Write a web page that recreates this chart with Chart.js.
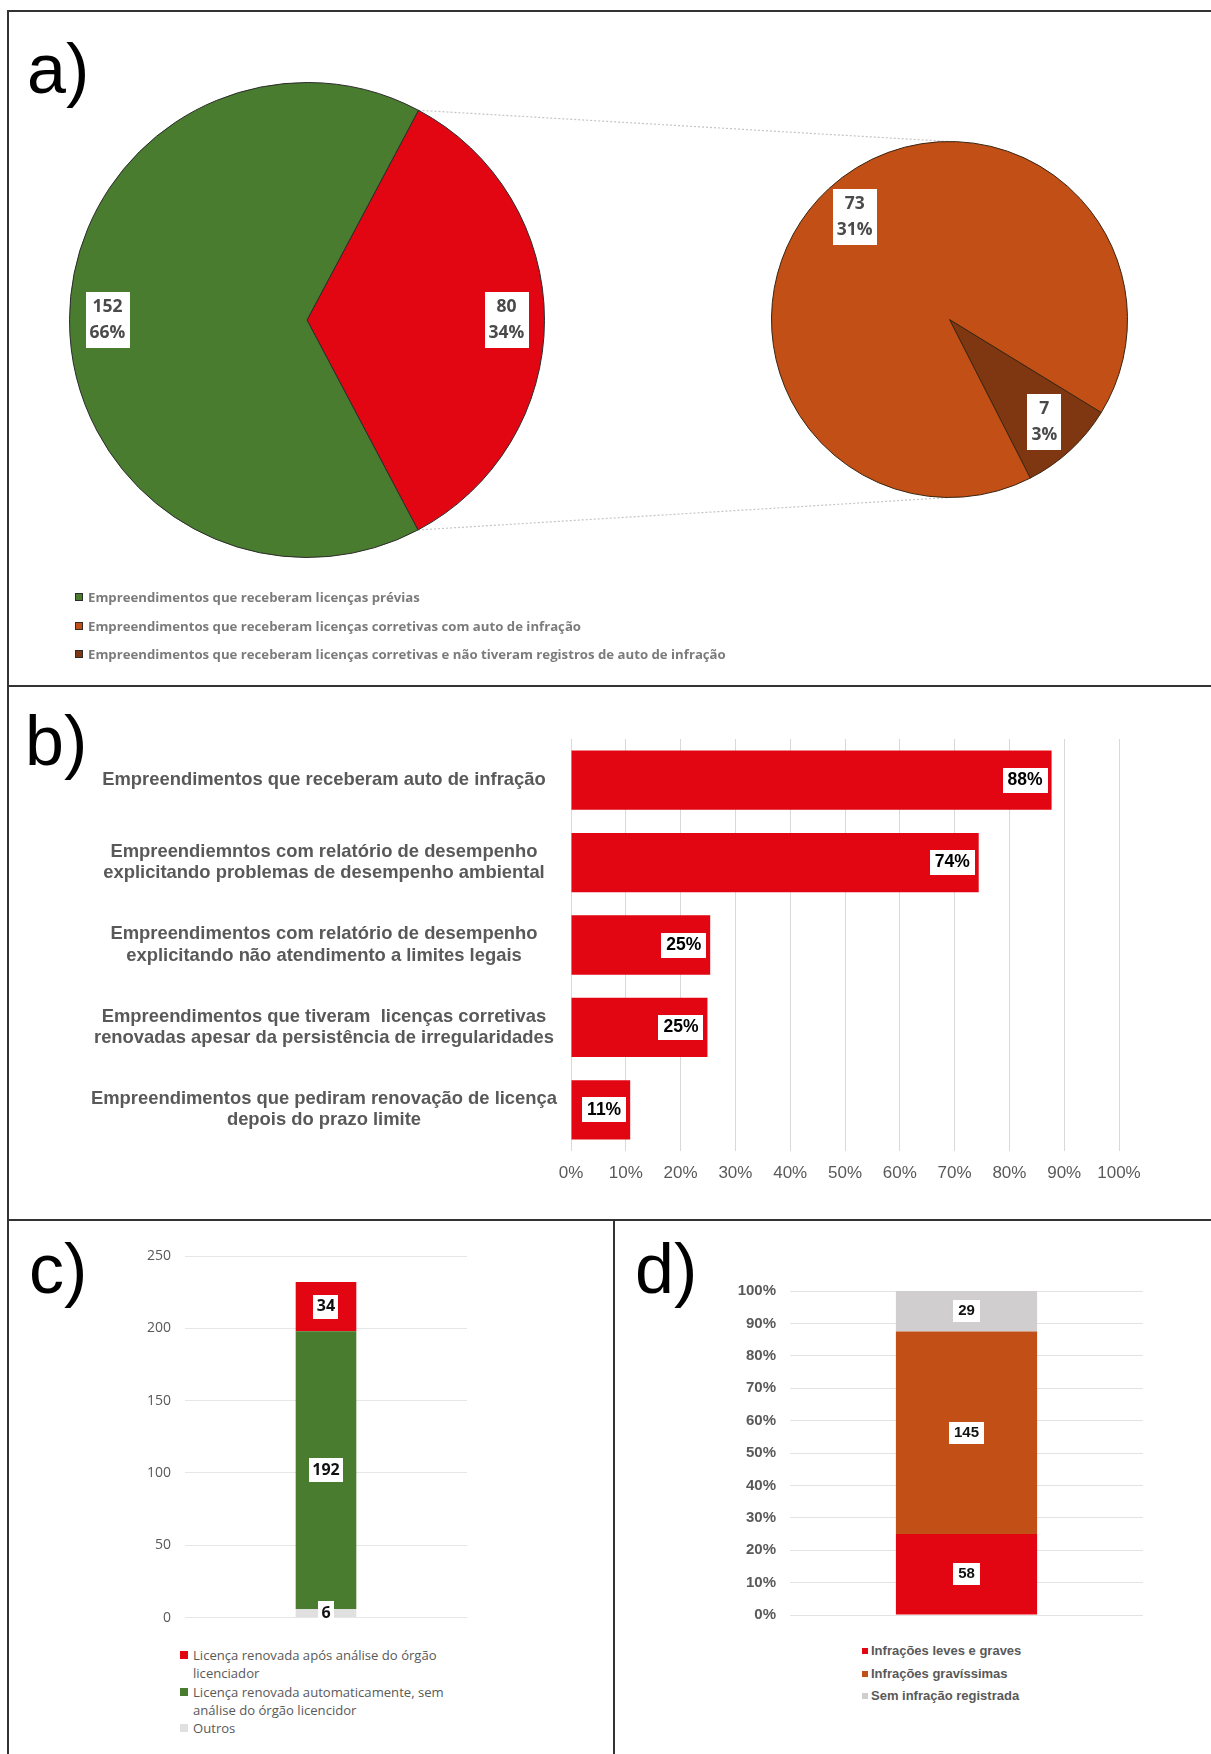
<!DOCTYPE html>
<html lang="pt-br">

<head>
  <meta charset="UTF-8">
  <title>Licenciamento - figura</title>
  <script src="https://cdn.jsdelivr.net/npm/chart.js"></script>
  <style>
    body { margin: 0; background: #fff; }
    #pagina { position: relative; width: 1211px; height: 1754px; overflow: hidden; background: #fff; }
    .linha { position: absolute; background: #333; }
    .letra { position: absolute; font-family: 'Liberation Sans', Arial, sans-serif; font-size: 70px; line-height: 70px; color: #000; }
    canvas { position: absolute; }
    .legenda { position: absolute; }
    .item { display: flex; align-items: flex-start; }
    .marca { flex: none; box-sizing: border-box; }
    #legenda-a { left: 75px; top: 583px; font-family: 'Open Sans', sans-serif; font-weight: 700; font-size: 13.2px; color: #7b7b7b; }
    #legenda-a .item { height: 28.5px; align-items: center; }
    #legenda-a .marca { width: 8px; height: 8px; border: 1px solid #2b2b2b; margin-right: 5px; }
    #legenda-c { left: 180px; top: 1646px; width: 300px; font-family: 'Open Sans', sans-serif; font-size: 13.1px; line-height: 18.3px; color: #595959; }
    #legenda-c .marca { width: 8px; height: 8px; margin: 5px 5px 0 0; }
    #legenda-c .texto { width: 268px; }
    #legenda-d { left: 862px; top: 1640px; font-family: 'Liberation Sans', Arial, sans-serif; font-weight: bold; font-size: 13px; line-height: 22.5px; color: #595959; }
    #legenda-d .marca { width: 6px; height: 6px; margin: 8px 3px 0 0; }
  </style>
</head>

<body>

  <div id="pagina">

    <!-- MOLDURA DOS PAINÉIS -->
    <div class="linha" style="left:8px; top:10px; width:1203px; height:2px;"></div>
    <div class="linha" style="left:7px; top:10px; width:2px; height:1744px;"></div>
    <div class="linha" style="left:8px; top:685px; width:1203px; height:2px;"></div>
    <div class="linha" style="left:8px; top:1219px; width:1203px; height:2px;"></div>
    <div class="linha" style="left:613px; top:1219px; width:2px; height:535px;"></div>

    <div class="letra" style="left:27px; top:34px;">a)</div>
    <div class="letra" style="left:25px; top:706px;">b)</div>
    <div class="letra" style="left:29px; top:1234px;">c)</div>
    <div class="letra" style="left:635px; top:1234px;">d)</div>

    <canvas id="conectores" width="1211" height="690" style="left:0; top:0;"></canvas>
    <canvas id="pizza" width="486" height="486" style="left:64px; top:77px;"></canvas>
    <canvas id="pizza-zoom" width="367" height="367" style="left:766px; top:136px;"></canvas>
    <div class="legenda" id="legenda-a"></div>

    <canvas id="barras-b" width="1200" height="525" style="left:8px; top:690px;"></canvas>

    <canvas id="barras-c" width="420" height="410" style="left:100px; top:1230px;"></canvas>
    <div class="legenda" id="legenda-c"></div>

    <canvas id="barras-d" width="570" height="400" style="left:630px; top:1240px;"></canvas>
    <div class="legenda" id="legenda-d"></div>

  </div>

  <script>

    // DADOS
    const rotulosPizza = ['Empreendimentos que receberam licenças corretivas', 'Empreendimentos que receberam licenças prévias'];
    const valoresPizza = [80, 152];

    const rotulosZoom = ['Empreendimentos que receberam licenças corretivas e não tiveram registros de auto de infração',
      'Empreendimentos que receberam licenças corretivas com auto de infração'];
    const valoresZoom = [7, 73];

    const rotulosB = [
      'Empreendimentos que receberam auto de infração',
      ['Empreendiemntos com relatório de desempenho', 'explicitando problemas de desempenho ambiental'],
      ['Empreendimentos com relatório de desempenho', 'explicitando não atendimento a limites legais'],
      ['Empreendimentos que tiveram  licenças corretivas', 'renovadas apesar da persistência de irregularidades'],
      ['Empreendimentos que pediram renovação de licença', 'depois do prazo limite']
    ];
    const valoresB = [87.7, 74.4, 25.4, 24.9, 10.8];

    // ordem de empilhamento: de baixo para cima
    const seriesC = ['Outros', 'Licença renovada automaticamente, sem análise do órgão licencidor',
      'Licença renovada após análise do órgão licenciador'];
    const valoresC = [6, 192, 34];
    const ordemLegendaC = [2, 1, 0];

    const seriesD = ['Infrações leves e graves', 'Infrações gravíssimas', 'Sem infração registrada'];
    const valoresD = [58, 145, 29];

    // CORES
    const vermelho = '#e20613';
    const verde = '#4a7c2f';
    const laranja = '#c14f16';
    const marrom = '#7f3712';
    const cinzaC = '#e0e0e0';
    const cinzaD = '#d0cece';

    const arial = "'Liberation Sans', Arial, sans-serif";
    const calibri = "'Open Sans', sans-serif";

    const totalGeral = valoresPizza.reduce((a, b) => a + b, 0);

    // rótulo em caixa branca (tipo data label do Excel)
    function rotulosCaixa(cfg) {
      return {
        id: 'rotulosCaixa',
        afterDatasetsDraw(chart) {
          const ctx = chart.ctx;
          ctx.save();
          ctx.font = cfg.fonte;
          ctx.textAlign = 'center';
          ctx.textBaseline = 'middle';
          chart.data.datasets.forEach((ds, d) => {
            chart.getDatasetMeta(d).data.forEach((el, i) => {
              const linhas = cfg.texto(ds.data[i], d, i);
              const w = Math.max(...linhas.map(t => ctx.measureText(t).width)) + cfg.padX * 2;
              const h = linhas.length * cfg.altLinha + cfg.padY * 2;
              const p = cfg.posicao(el, w, h);
              ctx.fillStyle = '#fff';
              ctx.fillRect(Math.round(p.x - w / 2), Math.round(p.y - h / 2), Math.round(w), Math.round(h));
              ctx.fillStyle = cfg.cor;
              linhas.forEach((t, k) => ctx.fillText(t, p.x, p.y - h / 2 + cfg.padY + cfg.altLinha * (k + 0.5)));
            });
          });
          ctx.restore();
        }
      };
    }

    function pontoArco(el, fator) {
      const meio = (el.startAngle + el.endAngle) / 2;
      return { x: el.x + Math.cos(meio) * el.outerRadius * fator, y: el.y + Math.sin(meio) * el.outerRadius * fator };
    }

    const textoPizza = v => [String(v), Math.round(v / totalGeral * 100) + '%'];

    const opcoesPizza = (rotacao) => ({
      responsive: false,
      animation: false,
      rotation: rotacao,
      layout: { padding: 5 },
      plugins: { legend: { display: false }, tooltip: { enabled: false } }
    });

    // a) PIZZA PRINCIPAL
    const graficoPizza = new Chart(document.getElementById('pizza'), {
      type: 'pie',
      data: {
        labels: rotulosPizza,
        datasets: [{ data: valoresPizza, backgroundColor: [vermelho, verde], borderColor: '#2b2b2b', borderWidth: 1 }]
      },
      options: opcoesPizza(28),
      plugins: [rotulosCaixa({
        fonte: 'bold 17.5px ' + calibri, cor: '#4a4a4a', padX: 4, padY: 2, altLinha: 26,
        texto: textoPizza, posicao: el => pontoArco(el, 0.84)
      })]
    });

    // a) PIZZA DO DETALHE
    const graficoZoom = new Chart(document.getElementById('pizza-zoom'), {
      type: 'pie',
      data: {
        labels: rotulosZoom,
        datasets: [{ data: valoresZoom, backgroundColor: [marrom, laranja], borderColor: '#3a2410', borderWidth: 1 }]
      },
      options: opcoesPizza(121.5),
      plugins: [rotulosCaixa({
        fonte: 'bold 17.5px ' + calibri, cor: '#4a4a4a', padX: 4, padY: 2, altLinha: 26,
        texto: textoPizza, posicao: el => pontoArco(el, 0.785)
      })]
    });

    // linhas pontilhadas ligando as duas pizzas
    const cvP = document.getElementById('pizza');
    const cvZ = document.getElementById('pizza-zoom');
    const arcoV = graficoPizza.getDatasetMeta(0).data[0];
    const arcoZ = graficoZoom.getDatasetMeta(0).data[0];
    const con = document.getElementById('conectores').getContext('2d');
    con.strokeStyle = '#c4c4c4';
    con.lineWidth = 1.2;
    con.setLineDash([2, 2]);
    [[arcoV.startAngle, -1], [arcoV.endAngle, 1]].forEach(([ang, lado]) => {
      con.beginPath();
      con.moveTo(cvP.offsetLeft + arcoV.x + arcoV.outerRadius * Math.cos(ang), cvP.offsetTop + arcoV.y + arcoV.outerRadius * Math.sin(ang));
      con.lineTo(cvZ.offsetLeft + arcoZ.x, cvZ.offsetTop + arcoZ.y + lado * arcoZ.outerRadius);
      con.stroke();
    });

    // b) BARRAS HORIZONTAIS
    new Chart(document.getElementById('barras-b'), {
      type: 'bar',
      data: {
        labels: rotulosB,
        datasets: [{ data: valoresB, backgroundColor: vermelho, categoryPercentage: 1, barPercentage: 0.72 }]
      },
      options: {
        indexAxis: 'y',
        responsive: false,
        animation: false,
        layout: { padding: { left: 0, right: 89, top: 49, bottom: 24 } },
        plugins: { legend: { display: false }, tooltip: { enabled: false } },
        scales: {
          x: {
            min: 0, max: 100,
            afterFit: s => { s.height = 40; },
            grid: { color: '#d9d9d9', drawTicks: false },
            border: { display: false },
            ticks: { stepSize: 10, padding: 12, color: '#595959', font: { family: arial, size: 17 }, callback: v => v + '%' }
          },
          y: {
            afterFit: s => { s.width = 563; },
            grid: { display: false, drawTicks: false },
            border: { display: false },
            ticks: { padding: 14, crossAlign: 'center', color: '#595959', font: { family: arial, size: 18.4, weight: 'bold', lineHeight: 1.15 } }
          }
        }
      },
      plugins: [rotulosCaixa({
        fonte: 'bold 17.5px ' + arial, cor: '#000', padX: 5, padY: 4, altLinha: 17,
        texto: v => [Math.round(v) + '%'],
        posicao: (el, w) => ({ x: el.x - 4 - w / 2, y: el.y })
      })]
    });

    // c) BARRA EMPILHADA
    const coresC = [cinzaC, verde, vermelho];
    new Chart(document.getElementById('barras-c'), {
      type: 'bar',
      data: {
        labels: [''],
        datasets: seriesC.map((s, i) => ({ label: s, data: [valoresC[i]], backgroundColor: coresC[i], categoryPercentage: 1, barPercentage: 0.215 }))
      },
      options: {
        responsive: false,
        animation: false,
        layout: { padding: { left: 0, right: 53, top: 26, bottom: 16 } },
        plugins: { legend: { display: false }, tooltip: { enabled: false } },
        scales: {
          x: { stacked: true, display: false },
          y: {
            stacked: true, min: 0, max: 250,
            afterFit: s => { s.width = 85; },
            grid: { color: '#e6e6e6', drawTicks: false },
            border: { display: false },
            ticks: { stepSize: 50, padding: 14, color: '#595959', font: { family: calibri, size: 14 } }
          }
        }
      },
      plugins: [rotulosCaixa({
        fonte: 'bold 16px ' + calibri, cor: '#111', padX: 3.5, padY: 3, altLinha: 18,
        texto: v => [String(v)],
        posicao: el => ({ x: el.x, y: (el.y + el.base) / 2 })
      })]
    });

    // d) BARRA 100% EMPILHADA
    const coresD = [vermelho, laranja, cinzaD];
    const totalD = valoresD.reduce((a, b) => a + b, 0);
    new Chart(document.getElementById('barras-d'), {
      type: 'bar',
      data: {
        labels: [''],
        datasets: seriesD.map((s, i) => ({ label: s, data: [valoresD[i] / totalD * 100], backgroundColor: coresD[i], categoryPercentage: 1, barPercentage: 0.40 }))
      },
      options: {
        responsive: false,
        animation: false,
        layout: { padding: { left: 0, right: 57, top: 51, bottom: 25 } },
        plugins: { legend: { display: false }, tooltip: { enabled: false } },
        scales: {
          x: { stacked: true, display: false },
          y: {
            stacked: true, min: 0, max: 100,
            afterFit: s => { s.width = 160; },
            grid: { color: '#e3e3e3', drawTicks: false },
            border: { display: false },
            ticks: { stepSize: 10, padding: 14, color: '#595959', font: { family: arial, size: 15, weight: 'bold' }, callback: v => v + '%' }
          }
        }
      },
      plugins: [rotulosCaixa({
        fonte: 'bold 15px ' + arial, cor: '#111', padX: 5, padY: 3.5, altLinha: 15,
        texto: (v, d) => [String(valoresD[d])],
        posicao: el => ({ x: el.x, y: (el.y + el.base) / 2 })
      })]
    });

    // LEGENDAS
    function montarLegenda(id, itens) {
      const caixa = document.getElementById(id);
      itens.forEach(([texto, cor]) => {
        const item = document.createElement('div');
        item.className = 'item';
        item.innerHTML = '<span class="marca" style="background:' + cor + '"></span><span class="texto">' + texto + '</span>';
        caixa.appendChild(item);
      });
    }

    montarLegenda('legenda-a', [[rotulosPizza[1], verde], [rotulosZoom[1], laranja], [rotulosZoom[0], marrom]]);
    montarLegenda('legenda-c', ordemLegendaC.map(i => [seriesC[i], coresC[i]]));
    montarLegenda('legenda-d', seriesD.map((s, i) => [s, coresD[i]]));

  </script>

</body>

</html>
